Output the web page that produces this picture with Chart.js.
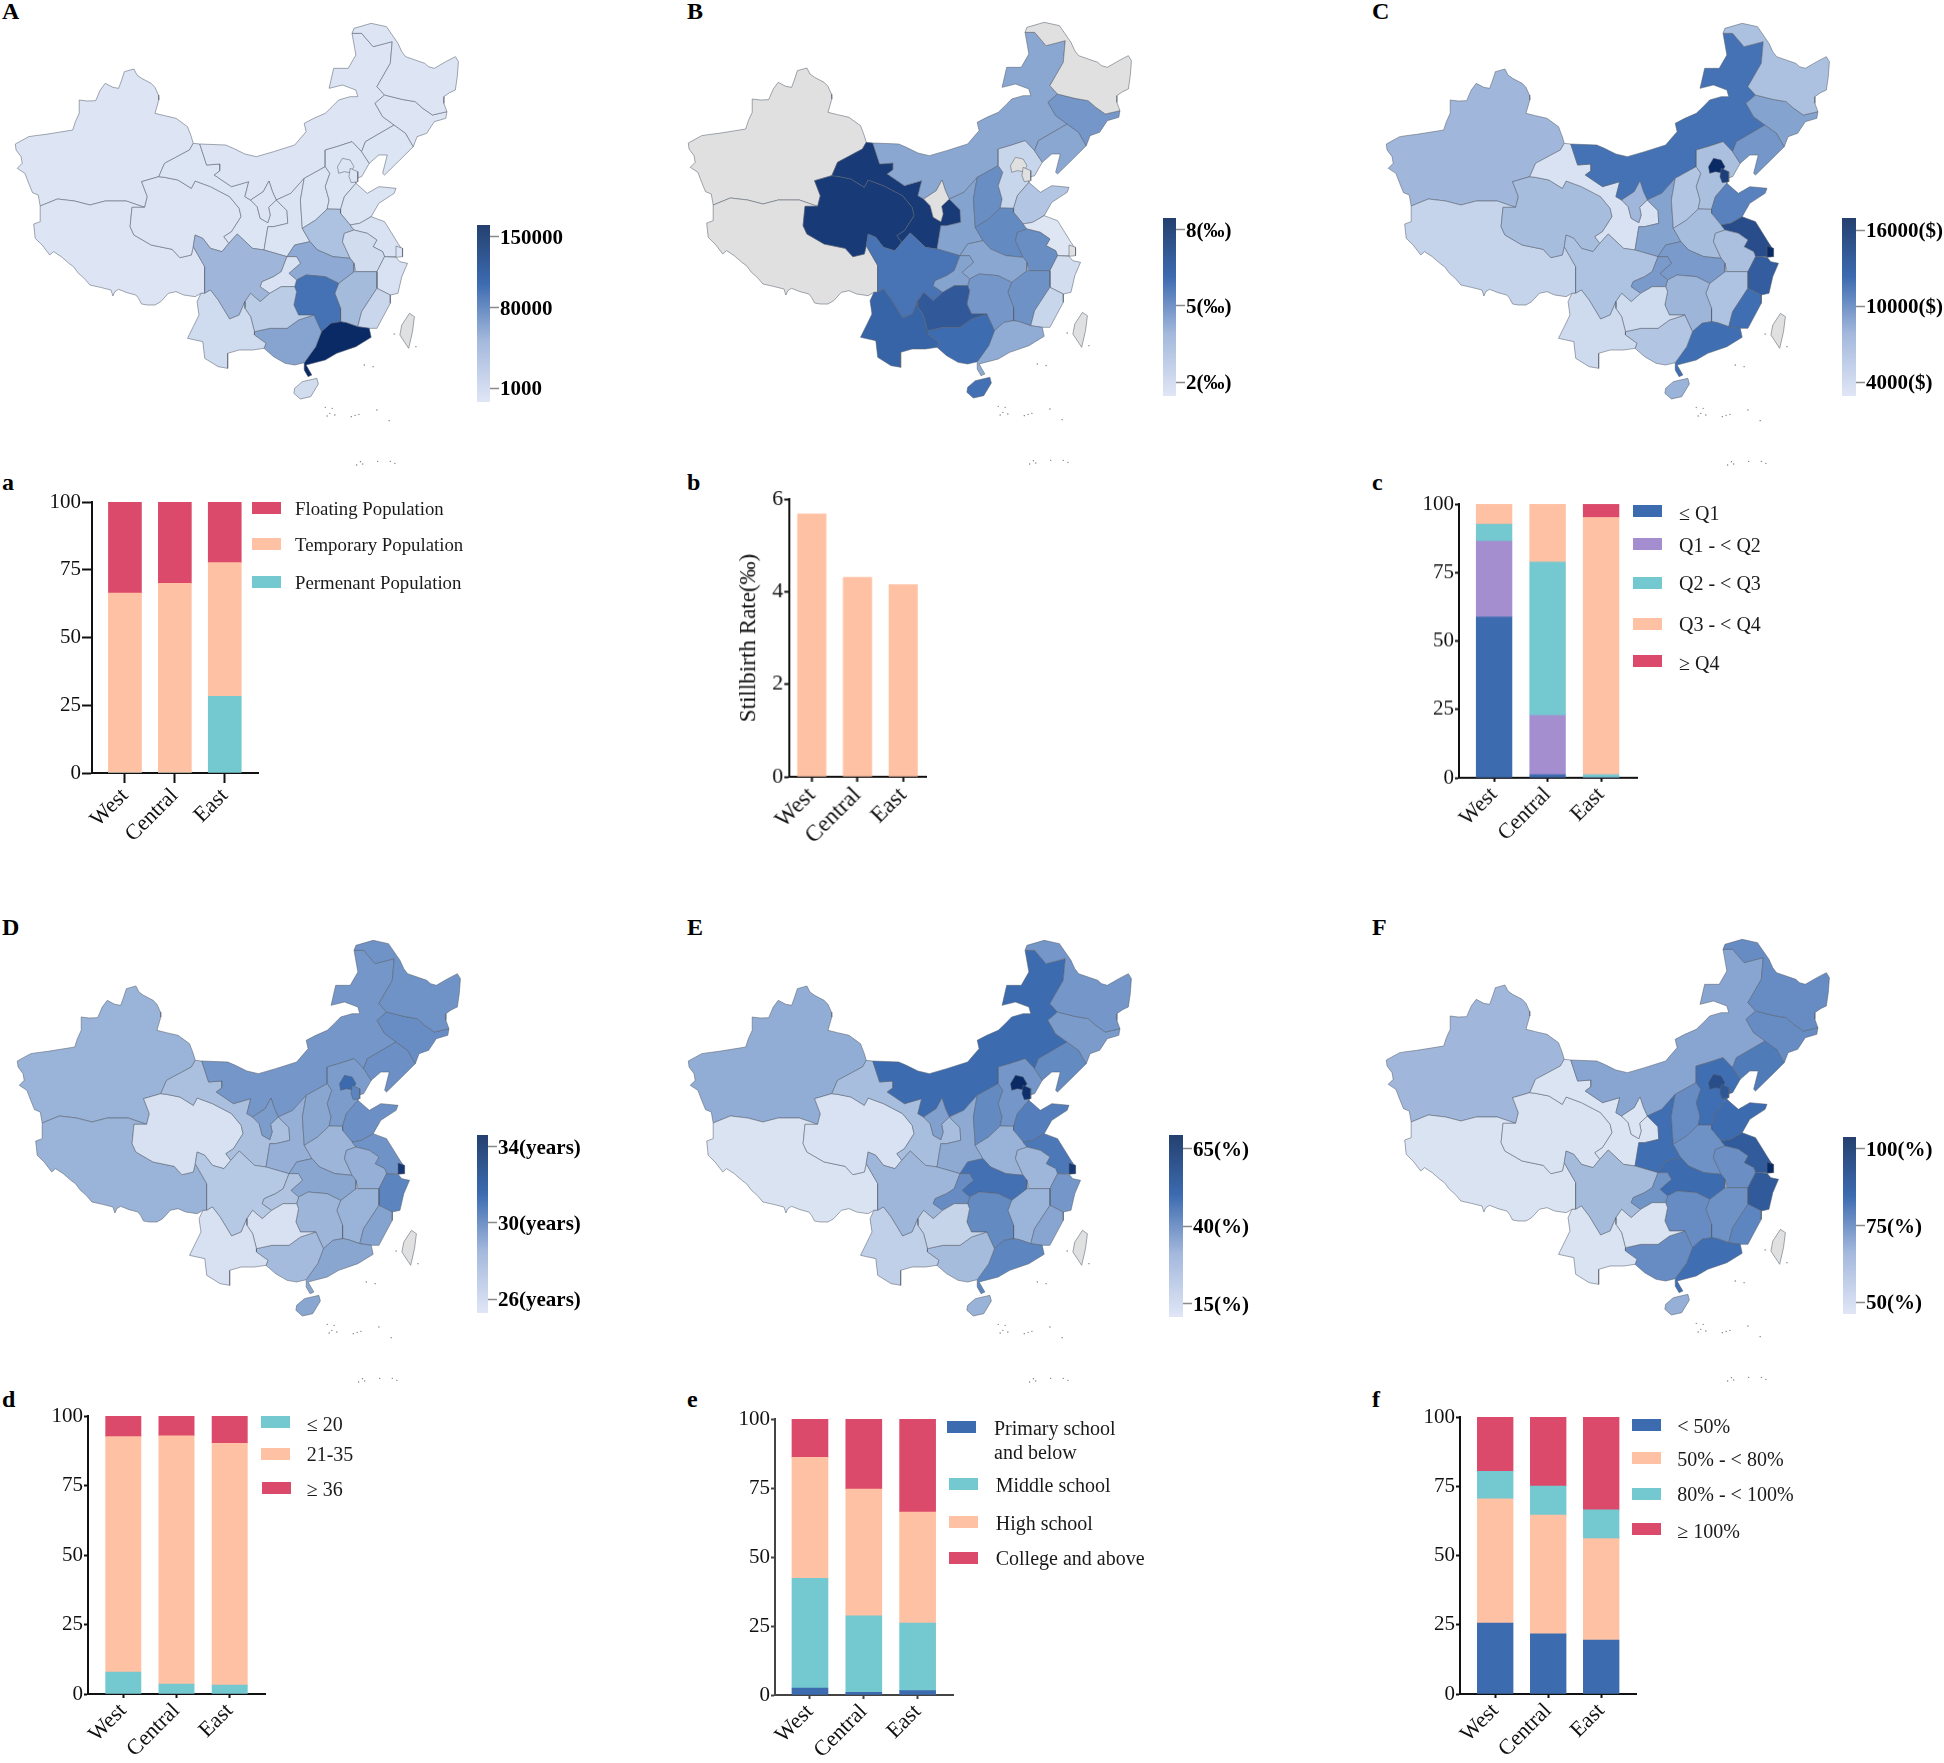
<!DOCTYPE html>
<html>
<head>
<meta charset="utf-8">
<title>Regional maps and stacked bars</title>
<script src="https://cdn.jsdelivr.net/npm/chart.js@4"></script>
<style>
  html, body { margin: 0; background: #fff; }
  #page { position: relative; width: 1944px; height: 1763px; overflow: hidden; font-family: "Liberation Serif", serif; color: #111; }
  #page canvas { position: absolute; }
  .letter { position: absolute; font-weight: bold; font-size: 24px; line-height: 24px; color: #000; }
  .swatch { position: absolute; }
  .legendText { position: absolute; white-space: pre; transform: translateY(-50%); color: #1a1a1a; line-height: 24px; }
</style>
</head>
<body>
<div id="page"></div>
<script>
var regions = ['West', 'Central', 'East'];

var provinceNames = ['Xinjiang', 'Tibet', 'Qinghai', 'Gansu', 'InnerMongolia', 'Ningxia', 'Shaanxi', 'Shanxi', 'Hebei', 'Beijing', 'Tianjin',
  'Shandong', 'Henan', 'Jiangsu', 'Shanghai', 'Anhui', 'Zhejiang', 'Jiangxi', 'Fujian', 'Hubei', 'Hunan', 'Guangdong', 'Guangxi', 'Hainan',
  'Sichuan', 'Chongqing', 'Guizhou', 'Yunnan', 'Liaoning', 'Jilin', 'Heilongjiang', 'Taiwan'];

// province outlines, flat x,y lists in map units
var outlines = {
  Xinjiang: [40,432, 75,410, 92,407, 120,403, 190,390, 197,365, 207,340, 207,300, 228,303, 250,302, 262,270, 275,250, 295,262, 310,265, 318,240, 325,215, 350,207, 358,225, 370,235, 395,250, 405,262, 414,285, 415,300, 405,340, 430,347, 460,355, 478,370, 490,380, 500,410, 505,430, 495,450, 430,490, 415,530, 370,545, 385,590, 378,622, 330,603, 275,603, 235,615, 195,603, 150,597, 105,618, 100,585, 85,578, 75,550, 65,520, 45,505, 58,490, 55,470, 42,450],
  Tibet: [105,618, 150,597, 195,603, 235,615, 275,603, 330,603, 378,622, 345,622, 340,680, 350,705, 395,735, 450,748, 470,773, 500,765, 505,740, 535,800, 535,880, 525,880, 510,890, 480,885, 460,875, 440,880, 420,905, 405,915, 385,915, 370,912, 362,895, 355,885, 332,878, 310,868, 300,875, 295,888, 290,870, 262,862, 235,855, 220,835, 205,820, 192,800, 180,790, 160,770, 140,755, 130,765, 110,735, 92,715, 88,672, 105,665],
  Qinghai: [345,622, 340,680, 350,705, 395,735, 450,748, 470,773, 500,765, 505,740, 510,705, 530,715, 550,745, 580,755, 598,730, 585,710, 605,695, 630,650, 625,625, 600,590, 550,560, 510,543, 500,565, 465,540, 430,532, 415,530, 370,545, 385,590, 378,622],
  Gansu: [505,430, 522,432, 540,495, 575,492, 575,512, 560,525, 605,560, 650,545, 640,590, 655,600, 672,620, 680,655, 700,668, 706,645, 702,622, 722,600, 750,632, 752,670, 715,680, 700,680, 690,750, 660,745, 620,702, 598,730, 585,710, 605,695, 630,650, 625,625, 600,590, 550,560, 510,543, 500,565, 465,540, 430,532, 415,530, 430,490, 495,450],
  InnerMongolia: [522,432, 590,435, 610,445, 640,462, 670,470, 715,455, 770,435, 785,415, 800,395, 795,370, 820,355, 850,340, 868,320, 885,300, 915,290, 935,290, 930,270, 895,255, 860,265, 872,205, 910,205, 930,165, 920,100, 945,100, 975,140, 1025,125, 1020,190, 985,260, 1005,285, 980,310, 1000,350, 1030,375, 955,425, 945,455, 920,425, 880,440, 850,450, 850,500, 795,535, 760,580, 722,600, 712,575, 703,543, 688,575, 655,600, 640,590, 650,545, 605,560, 560,525, 575,512, 575,492, 540,495],
  Ningxia: [703,543, 712,575, 722,600, 702,622, 706,645, 700,668, 680,655, 672,620, 655,600, 688,575],
  Shaanxi: [795,535, 785,600, 790,685, 810,725, 770,735, 750,770, 690,750, 700,680, 715,680, 752,670, 750,632, 722,600, 760,580],
  Shanxi: [850,500, 862,520, 850,560, 860,600, 855,627, 825,660, 790,685, 785,600, 795,535],
  Hebei: [850,450, 880,440, 920,425, 945,455, 965,490, 945,530, 930,535, 930,550, 900,590, 890,628, 855,627, 860,600, 850,560, 862,520, 850,500],
  Beijing: [882,500, 895,475, 915,480, 925,500, 915,518, 900,515, 885,520],
  Tianjin: [915,505, 935,515, 935,545, 918,548, 912,530],
  Shandong: [890,628, 900,590, 930,550, 960,580, 990,560, 1035,565, 1030,580, 990,610, 970,650, 940,670, 915,675, 890,640],
  Henan: [790,685, 825,660, 855,627, 890,628, 890,640, 915,675, 925,690, 900,700, 895,725, 915,775, 870,770, 830,750, 810,725],
  Jiangsu: [915,675, 940,670, 970,650, 1005,665, 1040,730, 1052,750, 1035,770, 1005,770, 1000,755, 975,740, 985,720, 960,700, 925,690],
  Shanghai: [1035,738, 1052,745, 1052,770, 1035,772],
  Anhui: [925,690, 960,700, 985,720, 975,740, 1000,755, 1005,770, 985,815, 930,815, 925,790, 915,775, 895,725, 900,700],
  Zhejiang: [1005,770, 1035,772, 1045,785, 1065,790, 1050,830, 1040,880, 1020,885, 985,865, 985,815],
  Jiangxi: [885,850, 925,815, 930,815, 985,815, 985,865, 945,935, 935,980, 905,968, 890,965, 890,925, 875,880],
  Fujian: [985,865, 1020,885, 1020,910, 985,985, 965,985, 935,980, 945,935],
  Hubei: [770,735, 810,725, 830,750, 870,770, 915,775, 925,790, 925,815, 885,850, 850,830, 800,825, 775,840, 755,820, 785,790, 775,770, 750,770],
  Hunan: [775,840, 800,825, 850,830, 885,850, 875,880, 890,925, 890,965, 865,970, 840,995, 820,945, 780,945, 768,915, 775,875, 770,860],
  Guangdong: [840,995, 865,970, 890,965, 905,968, 935,980, 965,985, 970,1012, 930,1040, 880,1060, 850,1080, 800,1095, 815,1125, 805,1130, 795,1110, 795,1088, 825,1040],
  Guangxi: [665,995, 705,985, 750,985, 780,960, 820,945, 840,995, 825,1040, 795,1088, 770,1095, 745,1090, 715,1070, 690,1045, 695,1030, 665,1005],
  Hainan: [770,1165, 790,1145, 828,1135, 832,1152, 812,1190, 785,1197, 768,1180],
  Sichuan: [510,705, 530,715, 550,745, 580,755, 598,730, 620,702, 660,745, 690,750, 750,770, 735,815, 715,830, 685,845, 680,860, 705,880, 680,905, 655,880, 640,905, 625,945, 600,957, 570,900, 550,870, 535,880, 535,800, 505,740],
  Chongqing: [750,770, 775,770, 785,790, 755,820, 775,840, 770,860, 735,860, 705,880, 680,860, 685,845, 715,830, 735,815],
  Guizhou: [655,880, 680,905, 705,880, 735,860, 770,860, 775,875, 768,915, 780,945, 820,945, 780,960, 750,985, 705,985, 665,995, 655,950, 640,925, 640,905],
  Yunnan: [525,880, 535,880, 550,870, 570,900, 600,957, 625,945, 640,905, 640,925, 655,950, 665,995, 665,1005, 695,1030, 690,1045, 660,1050, 625,1050, 595,1060, 595,1105, 570,1100, 535,1075, 530,1025, 490,1015, 505,980, 520,945, 515,905],
  Liaoning: [1030,375, 1060,400, 1080,440, 1045,480, 1005,525, 1000,520, 1012,465, 990,465, 965,490, 945,455, 955,425],
  Jilin: [1005,285, 1050,298, 1085,305, 1105,325, 1130,345, 1168,335, 1165,355, 1135,365, 1115,400, 1090,410, 1080,440, 1060,400, 1030,375, 1000,350, 980,310],
  Heilongjiang: [920,100, 925,85, 970,70, 1010,80, 1040,130, 1050,155, 1060,170, 1085,180, 1110,190, 1120,200, 1135,205, 1165,185, 1190,170, 1198,185, 1195,230, 1190,270, 1175,278, 1160,290, 1160,310, 1168,335, 1130,345, 1105,325, 1085,305, 1050,298, 1005,285, 985,260, 1020,190, 1025,125, 975,140, 945,100],
  Taiwan: [1070,940, 1083,950, 1078,995, 1068,1045, 1045,1005, 1050,975]
};

var islandSpecks = [850,1222, 855,1248, 862,1240, 875,1245, 868,1225, 918,1250, 928,1246, 938,1243, 985,1230, 1017,1262,
  932,1395, 942,1385, 948,1392, 987,1384, 1020,1384, 1032,1390, 952,1095, 975,1100, 1030,1002, 1087,1040];

// values per province, same order as provinceNames, null = no data
var populationA = [2000, 2000, 2000, 3000, 2000, 2000, 4000, 3000, 3000, 3000, 3000, 4000, 44000, 7000, 3000, 14000, 6000, 50000, 22000, 64000, 97000, 150000, 67000, 14000, 54000, 6000, 34000, 16000, 3000, 2000, 2000, null];
var stillbirthB = [null, null, 7.6, 7.6, 4.6, null, 4.7, 5.2, 2.9, null, null, 3.6, 5.3, 2, null, 5.2, 2.5, 5.1, 2.9, 4.6, 5, 4.5, 6, 5.9, 5.8, 4.7, 6.7, 6.3, 4.6, 5, null, null];
var incomeC = [8200, 6000, 7800, 4400, 11700, 8200, 9400, 7200, 7600, 16000, 15000, 11000, 7800, 14300, 16000, 7600, 13100, 7400, 11900, 9800, 8400, 11900, 7200, 8500, 7400, 9800, 5200, 5300, 10000, 9400, 7500, null];
var ageD = [29, 29, 26.4, 28.4, 30, 29.8, 29.2, 29.5, 29.8, 31.4, 30.6, 30.2, 28.9, 30.1, 33.6, 29.2, 30.6, 29, 29.6, 29.5, 28.9, 29.5, 28.6, 29.5, 28, 28.2, 26.4, 26.4, 30.2, 30.3, 30.1, null];
var collegeE = [35.5, 16.5, 17, 30.5, 48.5, 38, 36, 42.5, 40, 65, 64, 45, 34, 46, 62, 33, 40, 33.5, 37, 47.5, 42.5, 43.5, 31, 34, 33, 42, 23, 25, 42.5, 39, 40, null];
var coverageF = [67.5, 51.5, 51.5, 51, 72, 51, 83, 77, 83, 93, 90, 83.5, 76, 88.5, 100, 76.5, 89, 76, 78.5, 83.5, 77, 83, 77, 70, 66.5, 75.5, 51.5, 51.5, 80.5, 77, 77, null];

// colour bar tick labels and ranges
var ticksA = [1000, 80000, 150000];
var ticksB = [2, 5, 8];
var ticksC = [4000, 10000, 16000];
var ticksD = [26, 30, 34];
var ticksE = [15, 40, 65];
var ticksF = [50, 75, 100];
var rangeA = [-12800, 161800];
var rangeB = [1.45, 8.47];
var rangeC = [2895, 16950];
var rangeD = [25.27, 34.58];
var rangeE = [10.5, 69.5];
var rangeF = [46.1, 103.9];

// stacked bars, one list per legend entry
var floatingA = [33.6, 30, 22.4];
var temporaryA = [66.4, 70, 49.3];
var permanentA = [0, 0, 28.3];
var stillbirthRate = [5.68, 4.31, 4.15];
var q1C = [58.8, 1.2, 0];
var q2C = [27.6, 21.6, 0];
var q3C = [6.2, 56, 1.2];
var q4C = [7.4, 21.2, 93.9];
var q5C = [0, 0, 4.9];
var under20 = [7.9, 3.6, 3.2];
var age21to35 = [84.7, 89.3, 87];
var over36 = [7.4, 7.1, 9.8];
var primary = [2.5, 1, 1.6];
var middle = [39.8, 27.7, 24.5];
var high = [43.8, 45.9, 40.2];
var college = [13.9, 25.4, 33.7];
var below50 = [25.6, 21.7, 19.5];
var from50to80 = [44.9, 42.9, 36.6];
var from80to100 = [9.9, 10.5, 10.4];
var over100 = [19.6, 24.9, 33.5];

var FONT = '"Liberation Serif", serif';
var CRIMSON = '#dc4a6b', PEACH = '#fec1a3', TEAL = '#74c8d0', BLUE = '#3d6bb0', PURPLE = '#a48ed0';
var page = document.getElementById('page');

var rampStops = [[0, [222, 230, 244]], [0.2, [192, 208, 232]], [0.4, [149, 175, 214]], [0.55, [100, 138, 194]], [0.67, [60, 107, 176]], [0.85, [42, 79, 140]], [1, [10, 42, 102]]];

function rampColor(t) {
  t = Math.max(0, Math.min(1, t));
  for (var i = 1; i < rampStops.length; i++) {
    if (t <= rampStops[i][0]) {
      var a = rampStops[i - 1], b = rampStops[i];
      var f = (t - a[0]) / (b[0] - a[0]);
      var c = a[1].map(function (v, k) { return Math.round(v + (b[1][k] - v) * f); });
      return 'rgb(' + c.join(',') + ')';
    }
  }
  return 'rgb(10,42,102)';
}

function addCanvas(x, y, w, h) {
  var c = document.createElement('canvas');
  c.width = w;
  c.height = h;
  c.style.left = x + 'px';
  c.style.top = y + 'px';
  c.style.width = w + 'px';
  c.style.height = h + 'px';
  page.appendChild(c);
  return c;
}

function addLetter(text, x, y) {
  var d = document.createElement('div');
  d.className = 'letter';
  d.textContent = text;
  d.style.left = x + 'px';
  d.style.top = y + 'px';
  page.appendChild(d);
}

function toPoints(flat, close) {
  var pts = [];
  for (var i = 0; i < flat.length; i += 2) pts.push({ x: flat[i], y: flat[i + 1] });
  if (close) pts.push({ x: flat[0], y: flat[1] });
  return pts;
}

function drawMap(x, y, values, ticks) {
  var lo = ticks[0], hi = ticks[ticks.length - 1];
  var sets = provinceNames.map(function (name, i) {
    var v = values[i];
    return {
      label: name,
      data: toPoints(outlines[name], true),
      showLine: true,
      fill: 'shape',
      tension: 0,
      pointRadius: 0,
      borderWidth: 0.9,
      borderJoinStyle: 'round',
      borderColor: 'rgba(85,95,110,0.6)',
      backgroundColor: v === null ? '#e0e0e0' : rampColor((v - lo) / (hi - lo))
    };
  });
  // earlier datasets are painted last, small provinces must stay on top
  sets.reverse();
  sets.unshift({ label: 'islands', data: toPoints(islandSpecks, false), pointRadius: 0.7, pointBorderWidth: 0, pointBackgroundColor: '#777' });
  new Chart(addCanvas(x, y, 600, 480), {
    type: 'scatter',
    data: { datasets: sets },
    options: {
      responsive: false,
      animation: false,
      layout: { autoPadding: false },
      plugins: { legend: { display: false }, tooltip: { enabled: false } },
      scales: {
        x: { type: 'linear', display: false, min: 0, max: 1568 },
        y: { type: 'linear', display: false, min: 0, max: 1440, reverse: true }
      }
    }
  });
}

function drawColorBar(x, y, w, h, ticks, range, suffix) {
  var totalW = 150;
  new Chart(addCanvas(x, y, totalW, h), {
    type: 'bar',
    data: {
      labels: ['scale'],
      datasets: [{
        data: [range],
        barPercentage: 1,
        categoryPercentage: 1,
        backgroundColor: function (ctx) {
          var area = ctx.chart.chartArea;
          if (!area) return '#3c6bb0';
          var g = ctx.chart.ctx.createLinearGradient(0, area.bottom, 0, area.top);
          g.addColorStop(0, '#e0e6f6');
          g.addColorStop(0.35, '#a3b8dc');
          g.addColorStop(0.67, '#3c6bb0');
          g.addColorStop(1, '#24406f');
          return g;
        }
      }]
    },
    options: {
      responsive: false,
      animation: false,
      layout: { autoPadding: false },
      plugins: { legend: { display: false }, tooltip: { enabled: false } },
      scales: {
        x: { display: false },
        y: {
          position: 'right',
          min: range[0],
          max: range[1],
          border: { display: false },
          grid: { drawOnChartArea: false, drawTicks: true, tickLength: 9, tickColor: '#8a8a8a', tickWidth: 1.5 },
          afterBuildTicks: function (scale) {
            scale.ticks = ticks.map(function (v) { return { value: v }; });
          },
          afterFit: function (scale) {
            scale.width = totalW - w;
            scale.paddingTop = 0;
            scale.paddingBottom = 0;
          },
          ticks: {
            padding: 1,
            labelOffset: 2,
            color: '#000',
            font: { family: FONT, size: 21, weight: 'bold' },
            callback: function (v) { return v + suffix; }
          }
        }
      }
    }
  });
}

function drawBars(g, series) {
  var leftM = g.leftM || 70, bottomM = 90, topM = 16, rightM = 4;
  var plotW = g.right - g.left, plotH = g.bottom - g.top;
  var unitMin = (g.left - g.first) / g.step;
  var unitMax = (g.right - g.first) / g.step;
  var sets = series.map(function (s) {
    return {
      label: s.label,
      data: s.values.map(function (v, i) { return { x: i, y: v }; }),
      backgroundColor: s.color,
      borderWidth: 0,
      barThickness: g.barW
    };
  });
  var cfgY = {
    min: 0,
    max: g.max,
    stacked: true,
    border: { color: g.axisColor || '#111', width: 2 },
    grid: { drawOnChartArea: false, drawTicks: true, tickLength: g.tickY, tickColor: g.axisColor || '#111', tickWidth: 2 },
    afterFit: function (scale) { scale.width = leftM; },
    afterBuildTicks: function (scale) {
      scale.ticks = g.yTicks.map(function (v) { return { value: v }; });
    },
    ticks: { padding: 1, color: '#111', font: { family: FONT, size: g.font } }
  };
  if (g.yTitle) {
    cfgY.title = { display: true, text: g.yTitle, color: '#111', font: { family: FONT, size: g.font + 1 }, padding: { top: 0, bottom: 8 } };
  }
  new Chart(addCanvas(g.left - leftM, g.top - topM, leftM + plotW + rightM, topM + plotH + bottomM), {
    type: 'bar',
    data: { datasets: sets },
    options: {
      responsive: false,
      animation: false,
      layout: { autoPadding: false, padding: { top: topM, right: rightM } },
      plugins: { legend: { display: false }, tooltip: { enabled: false } },
      scales: {
        x: {
          type: 'linear',
          min: unitMin,
          max: unitMax,
          offset: false,
          stacked: true,
          border: { color: g.axisColor || '#111', width: 2 },
          grid: { offset: false, drawOnChartArea: false, drawTicks: true, tickLength: g.tickX, tickColor: g.axisColor || '#111', tickWidth: 2 },
          afterFit: function (scale) { scale.height = bottomM; },
          afterBuildTicks: function (scale) {
            scale.ticks = regions.map(function (r, i) { return { value: i }; });
          },
          ticks: {
            autoSkip: false,
            minRotation: 45,
            maxRotation: 45,
            padding: 0,
            color: '#111',
            font: { family: FONT, size: g.font + 1 },
            callback: function (v) { return regions[v]; }
          }
        },
        y: cfgY
      }
    }
  });
}

function addLegend(items, fontSize) {
  items.forEach(function (it) {
    var s = document.createElement('div');
    s.className = 'swatch';
    s.style.left = it.sx + 'px';
    s.style.top = it.sy + 'px';
    s.style.width = '29px';
    s.style.height = '12px';
    s.style.background = it.color;
    page.appendChild(s);
    var t = document.createElement('div');
    t.className = 'legendText';
    t.textContent = it.label;
    t.style.left = it.tx + 'px';
    t.style.top = it.ty + 'px';
    t.style.fontSize = fontSize + 'px';
    page.appendChild(t);
  });
}

function runAll() {
  addLetter('A', 2, -1);  addLetter('B', 687, -1);  addLetter('C', 1372, -1);
  addLetter('a', 2, 470); addLetter('b', 687, 470); addLetter('c', 1372, 470);
  addLetter('D', 2, 915); addLetter('E', 687, 915); addLetter('F', 1372, 915);
  addLetter('d', 2, 1387); addLetter('e', 687, 1387); addLetter('f', 1372, 1387);

  drawMap(0, 0, populationA, ticksA);
  drawMap(673, -1, stillbirthB, ticksB);
  drawMap(1371, 0, incomeC, ticksC);
  drawMap(2, 917, ageD, ticksD);
  drawMap(673, 917, collegeE, ticksE);
  drawMap(1371, 916, coverageF, ticksF);

  drawColorBar(477, 225, 13, 177, ticksA, rangeA, '');
  drawColorBar(1163, 218, 13, 178, ticksB, rangeB, '(‰)');
  drawColorBar(1842, 218, 14, 178, ticksC, rangeC, '($)');
  drawColorBar(477, 1135, 11, 178, ticksD, rangeD, '(years)');
  drawColorBar(1169, 1135, 14, 182, ticksE, rangeE, '(%)');
  drawColorBar(1843, 1137, 13, 177, ticksF, rangeF, '(%)');

  var pct = [0, 25, 50, 75, 100];

  drawBars({ left: 91.7, right: 258, top: 501.7, bottom: 772.7, first: 124.7, step: 50, barW: 33, max: 100, yTicks: pct, tickX: 10, tickY: 10, font: 21 }, [
    { label: 'Permenant Population', values: permanentA, color: TEAL },
    { label: 'Temporary Population', values: temporaryA, color: PEACH },
    { label: 'Floating Population', values: floatingA, color: CRIMSON }
  ]);
  addLegend([
    { label: 'Floating Population', color: CRIMSON, sx: 252, sy: 502, tx: 295, ty: 509 },
    { label: 'Temporary Population', color: PEACH, sx: 252, sy: 538, tx: 295, ty: 545 },
    { label: 'Permenant Population', color: TEAL, sx: 252, sy: 576, tx: 295, ty: 583 }
  ], 18.8);

  drawBars({ left: 789.3, right: 926, top: 499.3, bottom: 777, first: 811.8, step: 45.7, barW: 28.3, max: 6, yTicks: [0, 2, 4, 6], tickX: 5, tickY: 5, font: 22, yTitle: 'Stillbirth Rate(‰)', leftM: 54 }, [
    { label: 'Stillbirth Rate', values: stillbirthRate, color: PEACH }
  ]);

  drawBars({ left: 1458.7, right: 1636.7, top: 504, bottom: 777.7, first: 1493.8, step: 53.5, barW: 35.7, max: 100, yTicks: pct, tickX: 4, tickY: 4, font: 21 }, [
    { label: '≤ Q1', values: q1C, color: BLUE },
    { label: 'Q1 - < Q2', values: q2C, color: PURPLE },
    { label: 'Q2 - < Q3', values: q3C, color: TEAL },
    { label: 'Q3 - < Q4', values: q4C, color: PEACH },
    { label: '≥ Q4', values: q5C, color: CRIMSON }
  ]);
  addLegend([
    { label: '≤ Q1', color: BLUE, sx: 1633, sy: 505, tx: 1679, ty: 512.7 },
    { label: 'Q1 - < Q2', color: PURPLE, sx: 1633, sy: 538, tx: 1679, ty: 544.7 },
    { label: 'Q2 - < Q3', color: TEAL, sx: 1633, sy: 577, tx: 1679, ty: 583.3 },
    { label: 'Q3 - < Q4', color: PEACH, sx: 1633, sy: 618, tx: 1679, ty: 624 },
    { label: '≥ Q4', color: CRIMSON, sx: 1633, sy: 655, tx: 1679, ty: 662.7 }
  ], 20);

  drawBars({ left: 88, right: 265, top: 1416, bottom: 1694, first: 123.3, step: 53.2, barW: 35.3, max: 100, yTicks: pct, tickX: 4, tickY: 4, font: 21 }, [
    { label: '≤ 20', values: under20, color: TEAL },
    { label: '21-35', values: age21to35, color: PEACH },
    { label: '≥ 36', values: over36, color: CRIMSON }
  ]);
  addLegend([
    { label: '≤ 20', color: TEAL, sx: 261, sy: 1416, tx: 306.7, ty: 1424 },
    { label: '21-35', color: PEACH, sx: 261, sy: 1448, tx: 306.7, ty: 1454 },
    { label: '≥ 36', color: CRIMSON, sx: 262, sy: 1482, tx: 306.7, ty: 1489 }
  ], 20);

  drawBars({ left: 774.7, right: 953.3, top: 1418.7, bottom: 1695.3, first: 809.8, step: 54, barW: 36, max: 100, yTicks: pct, tickX: 4, tickY: 4, font: 21, axisColor: '#444' }, [
    { label: 'Primary school and below', values: primary, color: BLUE },
    { label: 'Middle school', values: middle, color: TEAL },
    { label: 'High school', values: high, color: PEACH },
    { label: 'College and above', values: college, color: CRIMSON }
  ]);
  addLegend([
    { label: 'Primary school\nand below', color: BLUE, sx: 947, sy: 1421, tx: 994, ty: 1440 },
    { label: 'Middle school', color: TEAL, sx: 949, sy: 1478, tx: 995.7, ty: 1485 },
    { label: 'High school', color: PEACH, sx: 949, sy: 1516, tx: 995.7, ty: 1523.3 },
    { label: 'College and above', color: CRIMSON, sx: 949, sy: 1552, tx: 995.7, ty: 1558.3 }
  ], 20);

  drawBars({ left: 1460, right: 1636, top: 1417, bottom: 1694, first: 1495.2, step: 53, barW: 35.7, max: 100, yTicks: pct, tickX: 4, tickY: 4, font: 21 }, [
    { label: '< 50%', values: below50, color: BLUE },
    { label: '50% - < 80%', values: from50to80, color: PEACH },
    { label: '80% - < 100%', values: from80to100, color: TEAL },
    { label: '≥ 100%', values: over100, color: CRIMSON }
  ]);
  addLegend([
    { label: '< 50%', color: BLUE, sx: 1632, sy: 1419, tx: 1677.3, ty: 1425.7 },
    { label: '50% - < 80%', color: PEACH, sx: 1632, sy: 1452, tx: 1677.3, ty: 1459.3 },
    { label: '80% - < 100%', color: TEAL, sx: 1632, sy: 1488, tx: 1677.3, ty: 1494.3 },
    { label: '≥ 100%', color: CRIMSON, sx: 1632, sy: 1523, tx: 1677.3, ty: 1530.7 }
  ], 20);
}

document.addEventListener('DOMContentLoaded', runAll);
</script>
</body>
</html>
